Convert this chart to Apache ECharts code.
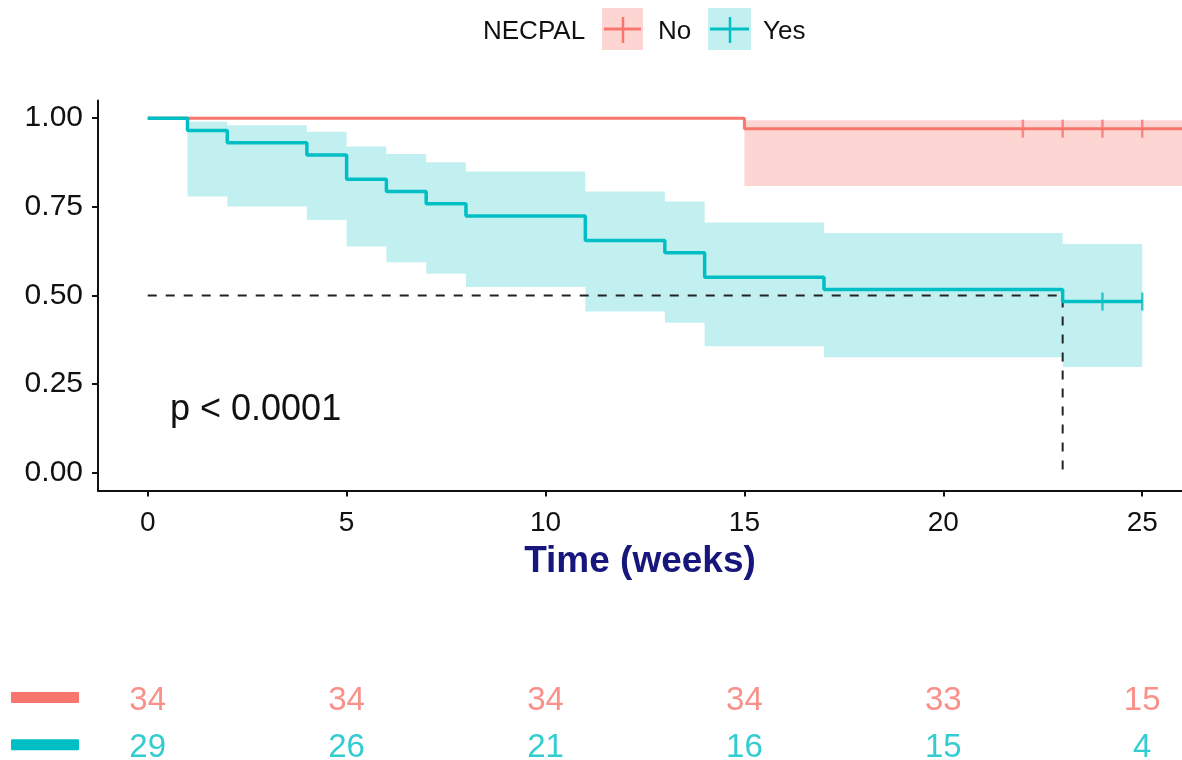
<!DOCTYPE html>
<html>
<head>
<meta charset="utf-8">
<title>NECPAL survival</title>
<script src="https://cdn.jsdelivr.net/npm/echarts@6/dist/echarts.min.js"></script>
<style>
  html, body { margin: 0; padding: 0; background: #fff; }
  #chart { width: 1182px; height: 760px; }
</style>
</head>
<body>
<div id="chart"></div>
<script>
// curve steps (time in weeks, survival probability)
var noTimes = [0, 15, 26.5];
var noSurv = [1, 0.9706, 0.9706];
var yesTimes = [0, 1, 2, 4, 5, 6, 7, 8, 11, 13, 14, 17, 23, 25];
var yesSurv = [1, 0.9655, 0.931, 0.8966, 0.8276, 0.7931, 0.7586, 0.7241, 0.6552, 0.6207, 0.5517, 0.5172, 0.4828, 0.4828];

// confidence bands: edges and lower/upper per step
var noBandEdges = [15, 26.5];
var noLower = [0.809];
var noUpper = [0.994];
var yesBandEdges = [1, 2, 4, 5, 6, 7, 8, 11, 13, 14, 17, 23, 25];
var yesLower = [0.779, 0.751, 0.713, 0.638, 0.594, 0.561, 0.524, 0.455, 0.423, 0.357, 0.326, 0.298];
var yesUpper = [0.99, 0.98, 0.962, 0.92, 0.899, 0.876, 0.85, 0.793, 0.765, 0.706, 0.676, 0.645];

// censoring marks
var noCensor = [22, 23, 24, 25];
var yesCensor = [24, 25];

var medianTime = 23;

// number at risk table
var riskTimes = [0, 5, 10, 15, 20, 25];
var riskNo = [34, 34, 34, 34, 33, 15];
var riskYes = [29, 26, 21, 16, 15, 4];

var xTicks = [0, 5, 10, 15, 20, 25];
var yTicks = [0, 0.25, 0.5, 0.75, 1];

var RED = '#F8766D';
var TEAL = '#00BFC4';
var FONT = '"Liberation Sans", Arial, Helvetica, sans-serif';

var pairs = function (xs, ys) {
    var out = [];
    for (var i = 0; i < xs.length; i++) out.push([xs[i], ys[i]]);
    return out;
};
var stepValue = function (xs, ys, t) {
    var v = ys[0];
    for (var i = 0; i < xs.length; i++) if (xs[i] <= t) v = ys[i];
    return v;
};
var bandData = function (edges, lo, up) {
    var out = [];
    for (var i = 0; i < lo.length; i++) out.push([edges[i], edges[i + 1], lo[i], up[i]]);
    return out;
};
var bandRenderer = function (fill) {
    return function (params, api) {
        var a = api.coord([api.value(0), api.value(3)]);
        var b = api.coord([api.value(1), api.value(2)]);
        return {
            type: 'rect',
            shape: { x: a[0], y: a[1], width: b[0] - a[0], height: b[1] - a[1] },
            style: { fill: fill }
        };
    };
};
var censorData = function (times, xs, ys) {
    return times.map(function (t) { return [t, stepValue(xs, ys, t)]; });
};
// row 1 = No, row 0 = Yes
var riskData = function (row, vals) {
    return riskTimes.map(function (t, i) { return [t, row, vals[i]]; });
};

var chart = echarts.init(document.getElementById('chart'));
chart.setOption({
    animation: false,
    textStyle: { fontFamily: FONT },
    grid: [
        { left: 98, top: 100.5, right: 0, height: 390 },
        { left: 98, top: 672, right: 0, bottom: 0 }
    ],
    xAxis: [{
        type: 'value', gridIndex: 0, min: -1.25, max: 26,
        splitLine: { show: false },
        axisLine: { onZero: false, lineStyle: { color: '#111', width: 2 } },
        axisTick: { customValues: xTicks, length: 6, lineStyle: { color: '#111', width: 2 } },
        axisLabel: { customValues: xTicks, color: '#111', fontSize: 28, margin: 19, fontFamily: FONT },
        name: 'Time (weeks)', nameLocation: 'middle', nameGap: 53,
        nameTextStyle: { color: '#16167d', fontSize: 37, fontWeight: 'bold', fontFamily: FONT }
    }, {
        type: 'value', gridIndex: 1, min: -1.25, max: 26, show: false
    }],
    yAxis: [{
        type: 'value', gridIndex: 0, min: -0.05, max: 1.05,
        splitLine: { show: false },
        axisLine: { show: true, onZero: false, lineStyle: { color: '#111', width: 2 } },
        axisTick: { show: true, customValues: yTicks, length: 6, lineStyle: { color: '#111', width: 2 } },
        axisLabel: {
            customValues: yTicks, color: '#111', fontSize: 30, margin: 15, fontFamily: FONT,
            formatter: function (v) { return v.toFixed(2); }
        }
    }, {
        type: 'value', gridIndex: 1, min: -0.326, max: 1.543,
        axisLine: { show: false }, axisTick: { show: false }, splitLine: { show: false },
        axisLabel: {
            customValues: [0, 1], margin: 19,
            formatter: function (v) { return v === 1 ? '{No|}' : '{Yes|}'; },
            rich: {
                No: { width: 68, height: 11, backgroundColor: RED, borderRadius: 1 },
                Yes: { width: 68, height: 11, backgroundColor: TEAL, borderRadius: 1 }
            }
        }
    }],
    series: [
        {
            type: 'custom', xAxisIndex: 0, yAxisIndex: 0, clip: true, silent: true,
            renderItem: bandRenderer('rgba(248,118,109,0.3)'),
            data: bandData(noBandEdges, noLower, noUpper), z: 1
        },
        {
            type: 'custom', xAxisIndex: 0, yAxisIndex: 0, clip: true, silent: true,
            renderItem: bandRenderer('rgba(0,191,196,0.24)'),
            data: bandData(yesBandEdges, yesLower, yesUpper), z: 1
        },
        {
            // median survival guide
            type: 'line', xAxisIndex: 0, yAxisIndex: 0, symbol: 'none', silent: true,
            lineStyle: { color: '#222', width: 2, type: [9, 9] },
            data: [[0, 0.5], [medianTime, 0.5], [medianTime, 0]], z: 2
        },
        {
            name: 'No', type: 'line', step: 'end', xAxisIndex: 0, yAxisIndex: 0,
            symbol: 'none', clip: true,
            lineStyle: { color: RED, width: 3 },
            data: pairs(noTimes, noSurv), z: 3
        },
        {
            name: 'Yes', type: 'line', step: 'end', xAxisIndex: 0, yAxisIndex: 0,
            symbol: 'none',
            lineStyle: { color: TEAL, width: 3.5 },
            data: pairs(yesTimes, yesSurv), z: 3
        },
        {
            type: 'scatter', xAxisIndex: 0, yAxisIndex: 0, symbol: 'rect', symbolSize: [2.5, 18],
            itemStyle: { color: RED }, data: censorData(noCensor, noTimes, noSurv), z: 4
        },
        {
            type: 'scatter', xAxisIndex: 0, yAxisIndex: 0, symbol: 'rect', symbolSize: [2.5, 18],
            itemStyle: { color: TEAL }, data: censorData(yesCensor, yesTimes, yesSurv), z: 4
        },
        {
            type: 'scatter', xAxisIndex: 1, yAxisIndex: 1, symbolSize: 1,
            itemStyle: { color: 'rgba(0,0,0,0)' },
            label: { show: true, position: 'inside', offset: [0, 3], color: RED, fontSize: 33, fontFamily: FONT,
                formatter: function (p) { return p.value[2]; } },
            data: riskData(1, riskNo)
        },
        {
            type: 'scatter', xAxisIndex: 1, yAxisIndex: 1, symbolSize: 1,
            itemStyle: { color: 'rgba(0,0,0,0)' },
            label: { show: true, position: 'inside', offset: [0, 3], color: TEAL, fontSize: 33, fontFamily: FONT,
                formatter: function (p) { return p.value[2]; } },
            data: riskData(0, riskYes)
        }
    ],
    graphic: [
        { type: 'text', left: 170, top: 392, style: { text: 'p < 0.0001', font: '36px ' + FONT, fill: '#111' } },
        // legend
        { type: 'text', left: 483, top: 19, style: { text: 'NECPAL', font: '26px ' + FONT, fill: '#111' } },
        { type: 'rect', shape: { x: 602, y: 8, width: 41, height: 42 }, style: { fill: 'rgba(248,118,109,0.3)' } },
        { type: 'line', shape: { x1: 604, y1: 29, x2: 641, y2: 29 }, style: { stroke: RED, lineWidth: 3 } },
        { type: 'line', shape: { x1: 623, y1: 17, x2: 623, y2: 43 }, style: { stroke: RED, lineWidth: 2.5 } },
        { type: 'text', left: 658, top: 19, style: { text: 'No', font: '26px ' + FONT, fill: '#111' } },
        { type: 'rect', shape: { x: 708, y: 8, width: 43, height: 42 }, style: { fill: 'rgba(0,191,196,0.24)' } },
        { type: 'line', shape: { x1: 710, y1: 29, x2: 749, y2: 29 }, style: { stroke: TEAL, lineWidth: 3 } },
        { type: 'line', shape: { x1: 730, y1: 17, x2: 730, y2: 43 }, style: { stroke: TEAL, lineWidth: 2.5 } },
        { type: 'text', left: 763, top: 19, style: { text: 'Yes', font: '26px ' + FONT, fill: '#111' } }
    ]
});
</script>
</body>
</html>
